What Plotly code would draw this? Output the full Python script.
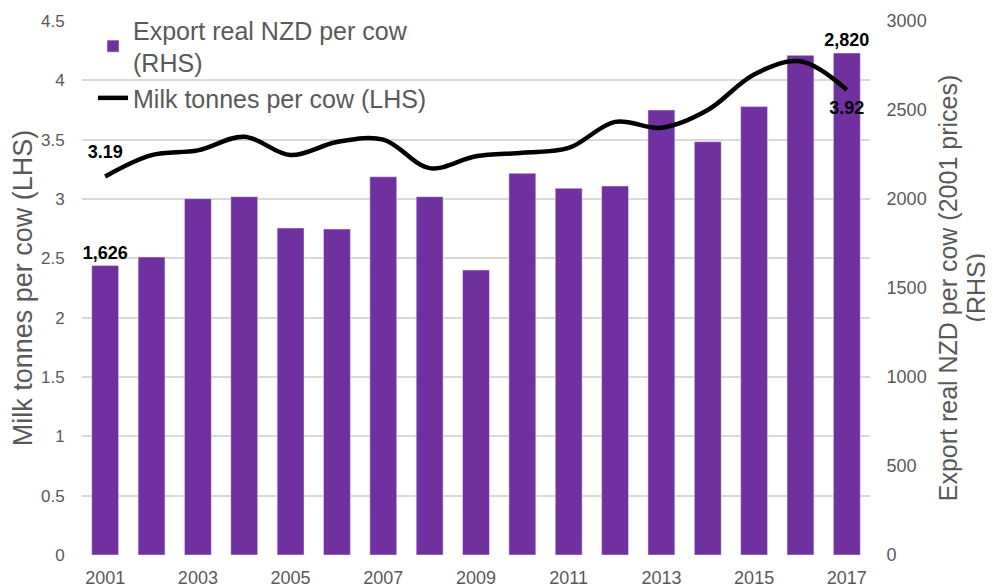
import plotly.graph_objects as go

years = list(range(2001, 2018))
export_nzd = [1626, 1674, 2002, 2013, 1837, 1831, 2125, 2013, 1601, 2144,
              2060, 2073, 2500, 2322, 2519, 2807, 2820]
milk_tonnes = [3.19, 3.37, 3.41, 3.525, 3.37, 3.48, 3.50, 3.26, 3.36, 3.39,
               3.43, 3.65, 3.60, 3.75, 4.05, 4.16, 3.92]

bar_name = "Export real NZD per cow<br>(RHS)"
line_name = "Milk tonnes per cow (LHS)"
left_title = "Milk tonnes per cow (LHS)"
right_title = "Export real NZD per cow (2001 prices)"
right_title_2 = "(RHS)"

FONT = "Liberation Sans, Arial, sans-serif"
GREY = "#595959"
CLEAR = "rgba(0,0,0,0)"

last = len(years) - 1
bar_text = [f"{v:,}" if i in (0, last) else "" for i, v in enumerate(export_nzd)]
line_text = [f"{v:.2f}" if i in (0, last) else "" for i, v in enumerate(milk_tonnes)]
line_pos = ["top center" if i == 0 else "bottom center" for i in range(len(milk_tonnes))]
label_pad = [20 if i == 0 else 16 for i in range(len(milk_tonnes))]

fig = go.Figure()
fig.add_trace(go.Bar(
    x=years, y=export_nzd, name=bar_name, yaxis="y",
    marker=dict(color="#7030A0"),
    text=bar_text, textposition="outside", cliponaxis=False, constraintext="none",
    outsidetextfont=dict(family=FONT, size=18, color="black", weight="bold"),
))
fig.add_trace(go.Scatter(
    x=years, y=milk_tonnes, name=line_name, mode="lines", yaxis="y2",
    line=dict(color="black", width=4.5, shape="spline", smoothing=1.0),
))
fig.add_trace(go.Scatter(
    x=years, y=milk_tonnes, mode="markers+text", text=line_text, textposition=line_pos,
    yaxis="y2", marker=dict(size=label_pad, color=CLEAR, opacity=0, line=dict(width=0)),
    textfont=dict(family=FONT, size=18, color="black", weight="bold"),
    showlegend=False, cliponaxis=False, hoverinfo="skip",
))

fig.update_layout(
    width=985, height=579,
    margin=dict(l=74, r=123, t=13, b=32, autoexpand=False),
    plot_bgcolor="white", paper_bgcolor="white",
    font=dict(family=FONT, color=GREY),
    bargap=0.42,
    xaxis=dict(
        range=[2000.5, 2017.5], tick0=2001, dtick=2, showgrid=False,
        tickfont=dict(size=18, color=GREY), ticks="outside", ticklen=6,
        tickcolor=CLEAR, zeroline=False, showline=False, automargin=False,
    ),
    yaxis=dict(
        range=[0, 3000], dtick=500, side="right", showgrid=False,
        tickfont=dict(size=18, color=GREY), zeroline=False,
        ticks="outside", ticklen=12, tickcolor=CLEAR, automargin=False,
        title=dict(text=right_title, font=dict(size=25, color=GREY), standoff=13),
    ),
    yaxis2=dict(
        range=[0, 4.5], dtick=0.5, overlaying="y", side="left",
        showgrid=True, gridcolor="#d9d9d9", gridwidth=1.5,
        tickfont=dict(size=17, color=GREY), zeroline=False,
        ticks="outside", ticklen=13, tickcolor=CLEAR, automargin=False,
        title=dict(text=left_title, font=dict(size=27, color=GREY), standoff=36),
        tickformat="~g",
    ),
    legend=dict(
        x=0.014, y=1.026, xanchor="left", yanchor="top",
        bgcolor=CLEAR, font=dict(size=25, color=GREY),
        traceorder="normal",
    ),
    annotations=[dict(
        text=right_title_2, xref="paper", yref="paper", x=1.135, y=0.5,
        xanchor="center", yanchor="middle", textangle=-90, showarrow=False,
        font=dict(family=FONT, size=25, color=GREY),
    )],
)

fig.write_html("out.html")
